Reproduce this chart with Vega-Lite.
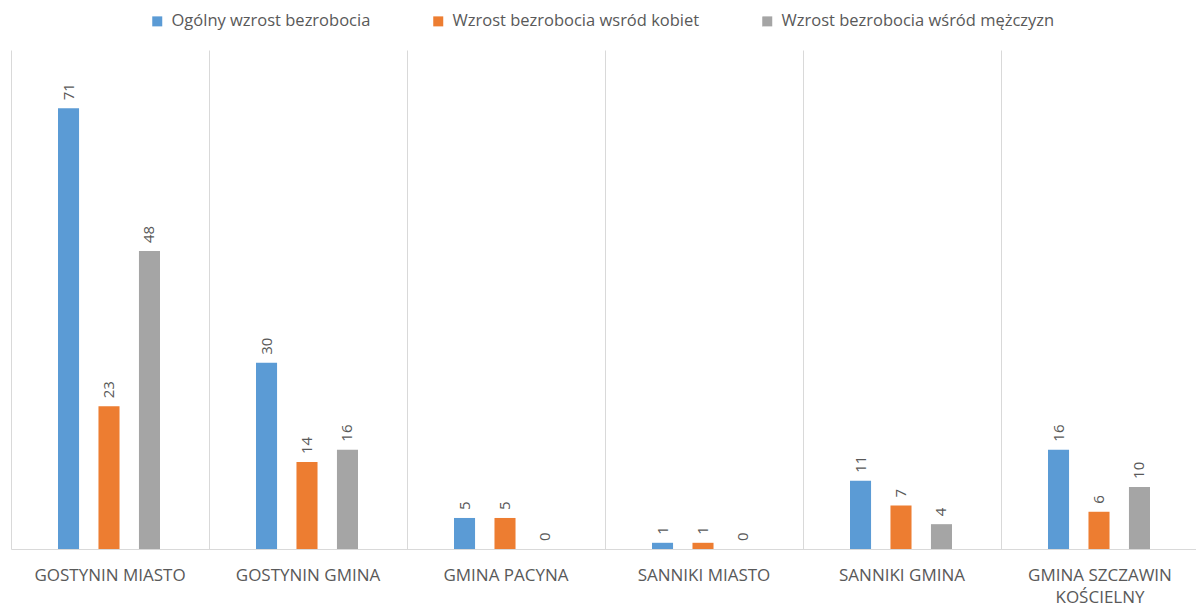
{
  "$schema": "https://vega.github.io/schema/vega-lite/v6.json",
  "autosize": {"type": "none"},
  "padding": {"left": 11, "top": 50, "right": 0, "bottom": 58},
  "width": 1188,
  "height": 499,
  "background": "white",
  "config": {
    "font": "Open Sans",
    "view": {"stroke": null}
  },
  "data": {
    "values": [
      {"gmina": "GOSTYNIN MIASTO", "seria": "Ogólny wzrost bezrobocia", "wartosc": 71},
      {"gmina": "GOSTYNIN MIASTO", "seria": "Wzrost bezrobocia wsród kobiet", "wartosc": 23},
      {"gmina": "GOSTYNIN MIASTO", "seria": "Wzrost bezrobocia wśród mężczyzn", "wartosc": 48},
      {"gmina": "GOSTYNIN GMINA", "seria": "Ogólny wzrost bezrobocia", "wartosc": 30},
      {"gmina": "GOSTYNIN GMINA", "seria": "Wzrost bezrobocia wsród kobiet", "wartosc": 14},
      {"gmina": "GOSTYNIN GMINA", "seria": "Wzrost bezrobocia wśród mężczyzn", "wartosc": 16},
      {"gmina": "GMINA PACYNA", "seria": "Ogólny wzrost bezrobocia", "wartosc": 5},
      {"gmina": "GMINA PACYNA", "seria": "Wzrost bezrobocia wsród kobiet", "wartosc": 5},
      {"gmina": "GMINA PACYNA", "seria": "Wzrost bezrobocia wśród mężczyzn", "wartosc": 0},
      {"gmina": "SANNIKI MIASTO", "seria": "Ogólny wzrost bezrobocia", "wartosc": 1},
      {"gmina": "SANNIKI MIASTO", "seria": "Wzrost bezrobocia wsród kobiet", "wartosc": 1},
      {"gmina": "SANNIKI MIASTO", "seria": "Wzrost bezrobocia wśród mężczyzn", "wartosc": 0},
      {"gmina": "SANNIKI GMINA", "seria": "Ogólny wzrost bezrobocia", "wartosc": 11},
      {"gmina": "SANNIKI GMINA", "seria": "Wzrost bezrobocia wsród kobiet", "wartosc": 7},
      {"gmina": "SANNIKI GMINA", "seria": "Wzrost bezrobocia wśród mężczyzn", "wartosc": 4},
      {"gmina": "GMINA SZCZAWIN KOŚCIELNY", "seria": "Ogólny wzrost bezrobocia", "wartosc": 16},
      {"gmina": "GMINA SZCZAWIN KOŚCIELNY", "seria": "Wzrost bezrobocia wsród kobiet", "wartosc": 6},
      {"gmina": "GMINA SZCZAWIN KOŚCIELNY", "seria": "Wzrost bezrobocia wśród mężczyzn", "wartosc": 10}
    ]
  },
  "encoding": {
    "x": {
      "field": "gmina",
      "type": "nominal",
      "sort": null,
      "scale": {"paddingInner": 0, "paddingOuter": 0},
      "axis": {
        "title": null,
        "labelAngle": 0,
        "labelFontSize": 17,
        "labelColor": "#595959",
        "labelPadding": 26,
        "labelLineHeight": 22,
        "labelBaseline": "middle",
        "labelLimit": 300,
        "labelExpr": "datum.label == 'GMINA SZCZAWIN KOŚCIELNY' ? ['GMINA SZCZAWIN', 'KOŚCIELNY'] : datum.label",
        "ticks": false,
        "grid": true,
        "bandPosition": 0,
        "gridColor": "#d9d9d9",
        "gridWidth": 1,
        "domainColor": "#d9d9d9",
        "domainWidth": 1
      }
    },
    "xOffset": {
      "field": "seria",
      "type": "nominal",
      "sort": null,
      "scale": {"range": [47, 149], "paddingInner": 0.48, "paddingOuter": 0}
    },
    "y": {
      "field": "wartosc",
      "type": "quantitative",
      "scale": {"domain": [0, 80.4], "nice": false},
      "axis": null
    }
  },
  "layer": [
    {
      "mark": {"type": "bar"},
      "encoding": {
        "color": {
          "field": "seria",
          "type": "nominal",
          "sort": null,
          "scale": {"range": ["#5B9BD5", "#ED7D31", "#A5A5A5"]},
          "legend": {
            "title": null,
            "orient": "none",
            "legendX": 138,
            "legendY": -37,
            "direction": "horizontal",
            "symbolType": "square",
            "symbolSize": 100,
            "symbolStrokeWidth": 0,
            "labelFontSize": 16.5,
            "labelColor": "#595959",
            "labelLimit": 400,
            "columnPadding": 59,
            "labelOffset": 6
          }
        }
      }
    },
    {
      "mark": {
        "type": "text",
        "angle": -90,
        "align": "left",
        "baseline": "middle",
        "dx": 8,
        "fontSize": 15,
        "color": "#595959"
      },
      "encoding": {
        "text": {"field": "wartosc", "type": "quantitative"}
      }
    }
  ]
}
